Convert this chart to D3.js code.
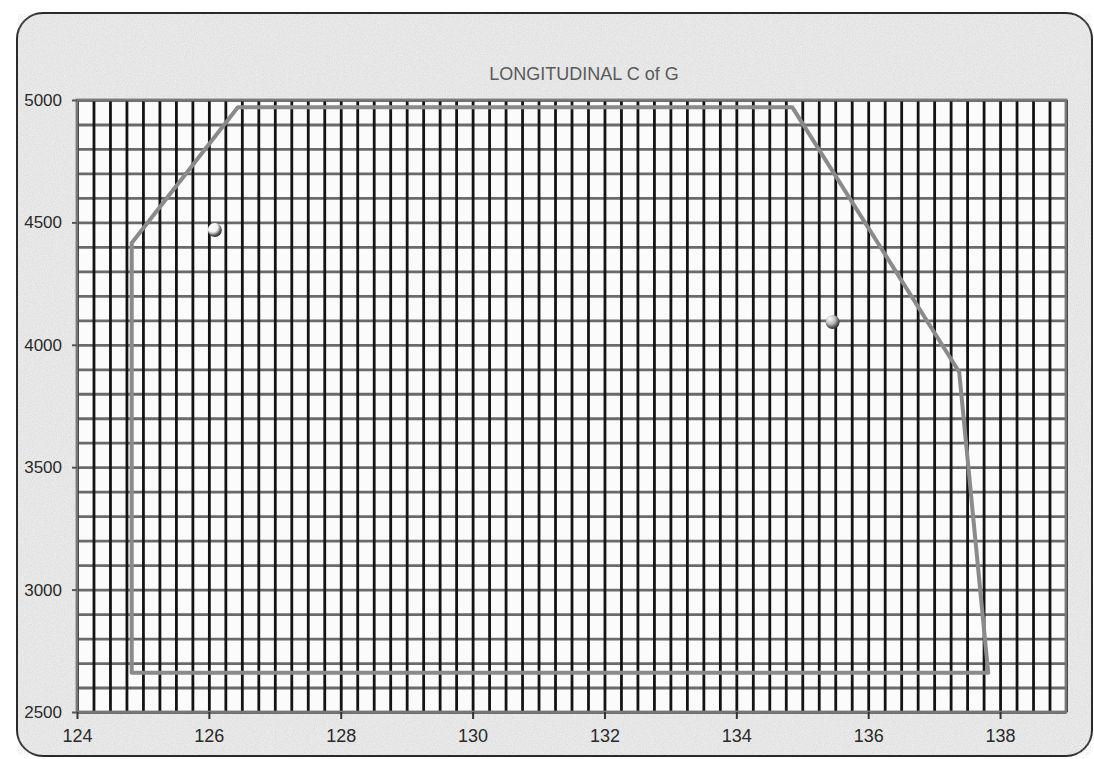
<!DOCTYPE html>
<html lang="en">
<head>
<meta charset="UTF-8">
<title>Longitudinal C of G</title>
<script src="https://d3js.org/d3.v7.min.js"></script>
<style>
  html, body { margin: 0; padding: 0; background: #fff; overflow: hidden; }
  svg { display: block; }
  text { font-family: 'Liberation Sans', Arial, sans-serif; }
</style>
</head>
<body>
<div id="chart"></div>
<script>
// envelope limits (arm, weight)
var envArm    = [124.83, 124.83, 126.44, 134.85, 137.38, 137.82];
var envWeight = [2660,   4416,   4970,   4970,   3889,   2660];
// loaded points
var ptArm    = [126.09, 135.46];
var ptWeight = [4469,   4093];
var ptTone   = ["#f2f2f2", "#bcbcbc"];
// axis ticks
var xTicks = [124, 126, 128, 130, 132, 134, 136, 138];
var yTicks = [2500, 3000, 3500, 4000, 4500, 5000];

var W = 1094, H = 759;
var pLeft = 77, pRight = 1066, pTop = 100, pBottom = 712;

var svg = d3.select("#chart").append("svg")
  .attr("width", W)
  .attr("height", H);

var defs = svg.append("defs");
var f = defs.append("filter").attr("id", "grain").attr("x", 0).attr("y", 0).attr("width", 1).attr("height", 1);
f.append("feTurbulence").attr("type", "fractalNoise").attr("baseFrequency", 0.9).attr("numOctaves", 2).attr("result", "n");
f.append("feColorMatrix").attr("in", "n").attr("type", "matrix")
  .attr("values", "0 0 0 0 0.55  0 0 0 0 0.55  0 0 0 0 0.55  0 0 0 -1.1 0.75");

// one shaded gradient per point
ptTone.forEach(function(c, i) {
  var g = defs.append("radialGradient").attr("id", "ball" + i)
    .attr("cx", "40%").attr("cy", "35%").attr("r", "70%")
    .attr("fx", "30%").attr("fy", "25%");
  g.append("stop").attr("offset", "0%").attr("stop-color", "#ffffff");
  g.append("stop").attr("offset", "50%").attr("stop-color", c);
  g.append("stop").attr("offset", "80%").attr("stop-color", "#555");
  g.append("stop").attr("offset", "100%").attr("stop-color", "#222");
});

// card background with rounded border
svg.append("rect")
  .attr("x", 17).attr("y", 13)
  .attr("width", W - 19).attr("height", H - 16)
  .attr("rx", 26)
  .attr("fill", "#ebebeb")
  .attr("stroke", "#2a2a2a")
  .attr("stroke-width", 2);
svg.append("rect")
  .attr("x", 18).attr("y", 14)
  .attr("width", W - 21).attr("height", H - 18)
  .attr("rx", 25)
  .attr("filter", "url(#grain)")
  .attr("opacity", 0.6);

var x = d3.scaleLinear().domain([124, 139]).range([pLeft, pRight]);
var y = d3.scaleLinear().domain([2500, 5000]).range([pBottom, pTop]);

// plot area
svg.append("rect")
  .attr("x", pLeft).attr("y", pTop)
  .attr("width", pRight - pLeft).attr("height", pBottom - pTop)
  .attr("fill", "#fbfbfb");

svg.append("text")
  .attr("x", 584).attr("y", 80)
  .attr("text-anchor", "middle")
  .attr("font-size", "18px")
  .attr("fill", "#5a5a5a")
  .text("LONGITUDINAL C of G");

// horizontal grid every 100
svg.append("g")
  .attr("transform", "translate(" + pLeft + ",0)")
  .call(d3.axisLeft(y).tickValues(d3.range(2500, 5001, 100)).tickSize(-(pRight - pLeft)).tickFormat(""))
  .call(function(g) {
    g.select(".domain").remove();
    g.selectAll("line").attr("stroke", "#6a6a6a").attr("stroke-width", 2.8);
  });

// vertical grid every 0.25
svg.append("g")
  .attr("transform", "translate(0," + pBottom + ")")
  .call(d3.axisBottom(x).tickValues(d3.range(124, 139.01, 0.25)).tickSize(-(pBottom - pTop)).tickFormat(""))
  .call(function(g) {
    g.select(".domain").remove();
    g.selectAll("line").attr("stroke", "#141414").attr("stroke-width", 2.8);
  });

// outer frame of plot
svg.append("rect")
  .attr("x", pLeft).attr("y", pTop)
  .attr("width", pRight - pLeft).attr("height", pBottom - pTop)
  .attr("fill", "none")
  .attr("stroke", "#777")
  .attr("stroke-width", 2.8);

// axes with labels
svg.append("g")
  .attr("transform", "translate(0," + pBottom + ")")
  .call(d3.axisBottom(x).tickValues(xTicks).tickSize(7).tickPadding(10).tickFormat(d3.format("d")))
  .call(function(g) {
    g.select(".domain").remove();
    g.selectAll("line").attr("stroke", "#333").attr("stroke-width", 2);
    g.selectAll("text").attr("font-size", "18px").attr("fill", "#2a2a2a")
      .attr("font-family", "'Liberation Sans', Arial, sans-serif");
  });

svg.append("g")
  .attr("transform", "translate(" + pLeft + ",0)")
  .call(d3.axisLeft(y).tickValues(yTicks).tickSize(5).tickPadding(10).tickFormat(d3.format("d")))
  .call(function(g) {
    g.select(".domain").remove();
    g.selectAll("line").attr("stroke", "#555").attr("stroke-width", 2);
    g.selectAll("text").attr("font-size", "17px").attr("fill", "#2a2a2a")
      .attr("font-family", "'Liberation Sans', Arial, sans-serif");
  });

// envelope
var env = envArm.map(function(a, i) { return [a, envWeight[i]]; });
svg.append("path")
  .datum(env)
  .attr("d", d3.line().x(function(d) { return x(d[0]); }).y(function(d) { return y(d[1]); }).curve(d3.curveLinearClosed))
  .attr("fill", "none")
  .attr("stroke", "#8a8a8a")
  .attr("stroke-width", 4)
  .attr("stroke-linejoin", "round");

// points
svg.selectAll(".pt")
  .data(ptArm)
  .enter().append("circle")
  .attr("class", "pt")
  .attr("cx", function(d) { return x(d); })
  .attr("cy", function(d, i) { return y(ptWeight[i]); })
  .attr("r", 7)
  .attr("fill", function(d, i) { return "url(#ball" + i + ")"; });
</script>
</body>
</html>
